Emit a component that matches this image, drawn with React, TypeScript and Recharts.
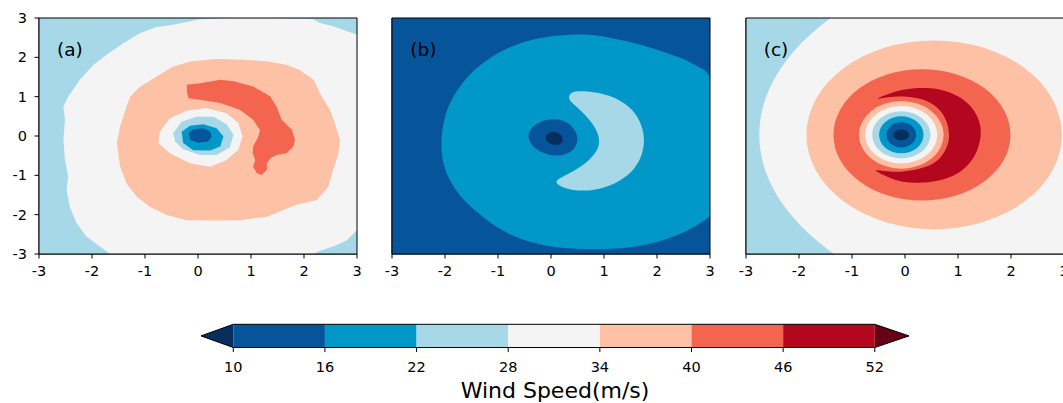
import React from 'react';
import { ScatterChart, Scatter, XAxis, YAxis, Curve } from 'recharts';

type Pt = [number, number];
type Region = { level: number; pts?: Pt[]; ell?: [number, number, number, number]; smooth?: boolean };

const axisTicks = [-3, -2, -1, 0, 1, 2, 3];
const barTicks = [10, 16, 22, 28, 34, 40, 46, 52];
const barEnds: [number, number] = [7.886, 54.24]; // tips of the extend triangles

// bin lower bound -> colour (0 = below 10, 52 = above 52)
const BIN_COLORS: Record<number, string> = {
  0: '#062f5e',
  10: '#06559a',
  16: '#0198c9',
  22: '#a6d8e8',
  28: '#f4f4f4',
  34: '#fdc1a5',
  40: '#f4654f',
  46: '#b3061f',
  52: '#690116',
};

const fullBox: Pt[] = [[-3, -3], [-3, 3], [3, 3], [3, -3]];
const frame: Pt[] = [[-3, -3], [-3, 3], [3, 3], [3, -3]];

// (a) observed
const aOuter28: Pt[] = [
  [-0.47, 2.83], [0.04, 2.97], [0.67, 3], [1.3, 3], [1.92, 2.98], [2.18, 2.97], [2.3, 2.87],
  [2.55, 2.79], [2.81, 2.66], [3, 2.58], [3, -2.39], [2.81, -2.65], [2.55, -2.81], [2.3, -2.92],
  [2.18, -3], [-1.66, -3], [-1.85, -2.81], [-2.1, -2.56], [-2.29, -2.22], [-2.42, -1.8],
  [-2.48, -1.37], [-2.45, -1.03], [-2.51, -0.61], [-2.54, -0.1], [-2.51, 0.41], [-2.54, 0.75],
  [-2.45, 1.0], [-2.23, 1.43], [-1.97, 1.81], [-1.72, 2.07], [-1.41, 2.36], [-1.09, 2.62], [-0.78, 2.77],
];
const aRing34: Pt[] = [
  [-0.12, 1.9], [0.35, 1.96], [0.86, 1.94], [1.3, 1.9], [1.67, 1.81], [1.92, 1.68], [2.18, 1.43],
  [2.3, 1.09], [2.49, 0.67], [2.58, 0.33], [2.68, -0.1], [2.65, -0.44], [2.55, -0.86], [2.46, -1.29],
  [2.24, -1.63], [1.86, -1.75], [1.61, -1.88], [1.3, -2.05], [0.79, -2.14], [0.35, -2.15],
  [-0.21, -2.14], [-0.59, -2.01], [-0.91, -1.8], [-1.16, -1.54], [-1.35, -1.2], [-1.47, -0.78],
  [-1.53, -0.18], [-1.47, 0.24], [-1.35, 0.75], [-1.28, 1.0], [-1.09, 1.26], [-0.78, 1.51], [-0.47, 1.77],
];
const aHook40: Pt[] = [
  [-0.21, 1.3], [0.04, 1.34], [0.42, 1.43], [0.67, 1.39], [1.04, 1.26], [1.36, 1.01], [1.48, 0.75],
  [1.58, 0.41], [1.77, 0.16], [1.83, -0.1], [1.8, -0.27], [1.67, -0.44], [1.48, -0.48], [1.36, -0.57],
  [1.3, -0.69], [1.3, -0.86], [1.2, -0.99], [1.11, -0.95], [1.04, -0.78], [1.08, -0.61], [1.03, -0.44],
  [1.04, -0.27], [1.14, -0.01], [1.17, 0.16], [1.04, 0.41], [0.79, 0.67], [0.42, 0.84], [0.04, 0.92],
  [-0.18, 0.96], [-0.21, 1.13],
];
const aEye28: Pt[] = [
  [-0.72, 0.11], [-0.53, 0.45], [-0.21, 0.65], [0.16, 0.71], [0.54, 0.58], [0.76, 0.33], [0.84, -0.01],
  [0.76, -0.35], [0.54, -0.61], [0.23, -0.78], [-0.15, -0.69], [-0.53, -0.44], [-0.75, -0.18],
];
const aEye22: Pt[] = [
  [-0.47, 0.07], [-0.31, 0.36], [-0.03, 0.49], [0.29, 0.49], [0.54, 0.3], [0.67, 0.03], [0.6, -0.29],
  [0.35, -0.48], [0.04, -0.48], [-0.28, -0.34], [-0.43, -0.14],
];
const aEye16: Pt[] = [
  [-0.31, 0.11], [-0.15, 0.26], [0.1, 0.3], [0.35, 0.2], [0.48, -0.01], [0.42, -0.27], [0.23, -0.37],
  [-0.09, -0.36], [-0.28, -0.18],
];
const aEye10: Pt[] = [
  [-0.18, 0.07], [-0.09, 0.17], [0.1, 0.2], [0.23, 0.11], [0.26, -0.01], [0.19, -0.14], [0.01, -0.17], [-0.15, -0.1],
];

// (b)
const bBlob16: Pt[] = [
  [0.42, 2.59], [0.73, 2.58], [1.05, 2.52], [1.43, 2.41], [1.8, 2.28], [2.18, 2.11], [2.56, 1.94],
  [2.81, 1.73], [3.15, 1.51], [3.15, -1.97], [2.88, -2.14], [2.62, -2.39], [2.31, -2.56], [1.93, -2.73],
  [1.43, -2.86], [0.8, -2.88], [0.17, -2.86], [-0.34, -2.73], [-0.84, -2.48], [-1.22, -2.14],
  [-1.6, -1.71], [-1.85, -1.29], [-2.04, -0.78], [-2.09, -0.1], [-2.0, 0.58], [-1.85, 1.0], [-1.6, 1.51],
  [-1.22, 1.94], [-0.78, 2.28], [-0.21, 2.52],
];
const bCrescent22: Pt[] = [
  [0.42, 1.16], [0.8, 1.13], [1.18, 1.01], [1.49, 0.75], [1.68, 0.41], [1.77, -0.01], [1.74, -0.44],
  [1.58, -0.86], [1.3, -1.16], [0.92, -1.37], [0.48, -1.41], [0.17, -1.29], [0.07, -1.16], [0.17, -1.07],
  [0.48, -0.86], [0.73, -0.61], [0.89, -0.35], [0.92, -0.1], [0.86, 0.16], [0.73, 0.41], [0.55, 0.67],
  [0.36, 0.88], [0.32, 1.01],
];
const bEye10: Pt[] = [
  [-0.46, -0.01], [-0.37, 0.24], [-0.15, 0.41], [0.1, 0.45], [0.36, 0.33], [0.49, 0.07], [0.51, -0.14],
  [0.42, -0.4], [0.17, -0.52], [-0.08, -0.48], [-0.34, -0.31],
];
const bCore0: Pt[] = [
  [-0.13, -0.06], [-0.06, 0.08], [0.07, 0.12], [0.21, 0.04], [0.24, -0.15], [0.14, -0.24], [-0.03, -0.21],
];

// (c) ellipses as [cx, cy, rx, ry]
const cOuter28: [number, number, number, number] = [4.15, 0.03, 6.9, 5.0];
const cOuter34: [number, number, number, number] = [0.55, 0.03, 2.41, 2.4];
const cOuter40: [number, number, number, number] = [0.32, 0.03, 1.67, 1.67];
const cCrescent46: Pt[] = [
  [-0.62, 0.9], [-0.3, 1.09], [0.02, 1.2], [0.39, 1.24], [0.77, 1.17], [1.09, 0.96], [1.31, 0.67],
  [1.42, 0.33], [1.44, 0.03], [1.38, -0.35], [1.24, -0.69], [1.02, -0.95], [0.74, -1.12], [0.33, -1.2],
  [-0.05, -1.19], [-0.36, -1.03], [-0.64, -0.84], [-0.4, -0.89], [-0.09, -0.93], [0.35, -0.83],
  [0.67, -0.61], [0.82, -0.22], [0.84, 0.03], [0.8, 0.37], [0.67, 0.67], [0.42, 0.92], [0.04, 1.02], [-0.34, 1.0],
];
const cEyeLevels = [34, 28, 22, 16, 10, 0];
const cEyeRx = [0.8, 0.68, 0.55, 0.42, 0.28, 0.15];
const cEyeRy = [0.86, 0.73, 0.6, 0.47, 0.32, 0.14];
const cEyeCenter: Pt = [-0.07, 0.03];

const panelA: Region[] = [
  { level: 22, pts: fullBox },
  { level: 28, pts: aOuter28 },
  { level: 34, pts: aRing34 },
  { level: 40, pts: aHook40 },
  { level: 28, pts: aEye28 },
  { level: 22, pts: aEye22 },
  { level: 16, pts: aEye16 },
  { level: 10, pts: aEye10 },
];

const panelB: Region[] = [
  { level: 10, pts: fullBox },
  { level: 16, pts: bBlob16, smooth: true },
  { level: 22, pts: bCrescent22, smooth: true },
  { level: 10, pts: bEye10, smooth: true },
  { level: 0, pts: bCore0, smooth: true },
];

const panelC: Region[] = [
  { level: 22, pts: fullBox },
  { level: 28, ell: cOuter28 },
  { level: 34, ell: cOuter34 },
  { level: 40, ell: cOuter40 },
  { level: 46, pts: cCrescent46, smooth: true },
  ...cEyeLevels.map((level, i) => ({
    level,
    ell: [cEyeCenter[0], cEyeCenter[1], cEyeRx[i], cEyeRy[i]] as [number, number, number, number],
  })),
];

// colour bar pieces: rectangles between ticks plus the two extend triangles
const barRegions: Region[] = [
  { level: 0, pts: [[barTicks[0], 0], [barEnds[0], 0.5], [barTicks[0], 1]] },
  ...barTicks.slice(0, -1).map((lo, i) => ({
    level: lo,
    pts: [[lo, 0], [lo, 1], [barTicks[i + 1], 1], [barTicks[i + 1], 0]] as Pt[],
  })),
  { level: 52, pts: [[52, 0], [52, 1], [barEnds[1], 0.5]] },
];
const barOutline: Pt[] = [[barEnds[0], 0.5], [10, 1], [52, 1], [barEnds[1], 0.5], [52, 0], [10, 0]];

const renderRegion = (r: Region, i: number) => {
  const color = BIN_COLORS[r.level];
  const pts: Pt[] = r.pts ?? [[r.ell![0] - r.ell![2], r.ell![1] - r.ell![3]], [r.ell![0] + r.ell![2], r.ell![1] + r.ell![3]]];
  return (
    <Scatter
      key={i}
      data={pts.map(([x, y]) => ({ x, y }))}
      fill={color}
      isAnimationActive={false}
      legendType="none"
      shape={() => <g />}
      lineType="joint"
      line={(p: any) => {
        if (r.ell) {
          const [a, b] = p.points;
          return (
            <ellipse
              cx={(a.x + b.x) / 2}
              cy={(a.y + b.y) / 2}
              rx={Math.abs(b.x - a.x) / 2}
              ry={Math.abs(b.y - a.y) / 2}
              fill={color}
              stroke="none"
            />
          );
        }
        return <Curve points={p.points} type={r.smooth ? 'basisClosed' : 'linearClosed'} fill={color} stroke="none" />;
      }}
    />
  );
};

// black outline drawn on unclipped hidden axes
const renderOutline = (pts: Pt[], xId: string, yId: string) => (
  <Scatter
    key="outline"
    xAxisId={xId}
    yAxisId={yId}
    data={pts.map(([x, y]) => ({ x, y }))}
    fill="#000"
    isAnimationActive={false}
    legendType="none"
    shape={() => <g />}
    lineType="joint"
    line={(p: any) => <Curve points={p.points} type="linearClosed" fill="none" stroke="#000" strokeWidth={1} />}
  />
);

function Panel({ regions, left, tag, yLabels }: { regions: Region[]; left: number; tag: string; yLabels: boolean }) {
  return (
    <div style={{ position: 'absolute', left, top: 0, width: 372, height: 284 }}>
      <ScatterChart width={372} height={284} margin={{ top: 18, right: 15, bottom: 0, left: 0 }}>
        {regions.map(renderRegion)}
        {renderOutline(frame, 'f', 'f')}
        <XAxis
          dataKey="x"
          type="number"
          domain={[-3, 3]}
          ticks={axisTicks}
          interval={0}
          allowDataOverflow
          tickSize={4.5}
          stroke="#000"
          tick={{ fill: '#000', fontSize: 14.5, dy: 5.5 }}
        />
        <YAxis
          dataKey="y"
          type="number"
          domain={[-3, 3]}
          ticks={axisTicks}
          interval={0}
          allowDataOverflow
          width={39}
          tickSize={4.5}
          stroke="#000"
          tick={yLabels ? { fill: '#000', fontSize: 14.5, dx: -5.5 } : false}
        />
        <XAxis xAxisId="f" dataKey="x" type="number" domain={[-3, 3]} hide />
        <YAxis yAxisId="f" dataKey="y" type="number" domain={[-3, 3]} hide />
      </ScatterChart>
      <div style={{ position: 'absolute', left: 57, top: 41, fontSize: 18.5, lineHeight: '18.5px', color: '#000' }}>{tag}</div>
    </div>
  );
}

export default function App() {
  return (
    <div
      style={{
        position: 'absolute',
        left: 0,
        top: 0,
        width: 1063,
        height: 403,
        overflow: 'hidden',
        background: '#fff',
        fontFamily: "'DejaVu Sans', sans-serif",
      }}
    >
      <Panel regions={panelA} left={0} tag="(a)" yLabels />
      <Panel regions={panelB} left={353.3} tag="(b)" yLabels={false} />
      <Panel regions={panelC} left={706.7} tag="(c)" yLabels={false} />

      <div style={{ position: 'absolute', left: 199, top: 300 }}>
        <ScatterChart width={712} height={103} margin={{ top: 24.3, right: 2, bottom: 25.5, left: 2 }}>
          {barRegions.map(renderRegion)}
          {renderOutline(barOutline, 'o', 'o')}
          <XAxis
            dataKey="x"
            type="number"
            domain={barEnds}
            ticks={barTicks}
            interval={0}
            axisLine={false}
            tickSize={4.5}
            stroke="#000"
            tick={{ fill: '#000', fontSize: 14.5, dy: 7.7 }}
            label={{ value: 'Wind Speed(m/s)', position: 'bottom', offset: 4.4, fill: '#000', fontSize: 22 }}
          />
          <YAxis dataKey="y" type="number" domain={[0, 1]} hide />
          <XAxis xAxisId="o" dataKey="x" type="number" domain={barEnds} hide />
          <YAxis yAxisId="o" dataKey="y" type="number" domain={[0, 1]} hide />
        </ScatterChart>
      </div>
    </div>
  );
}
